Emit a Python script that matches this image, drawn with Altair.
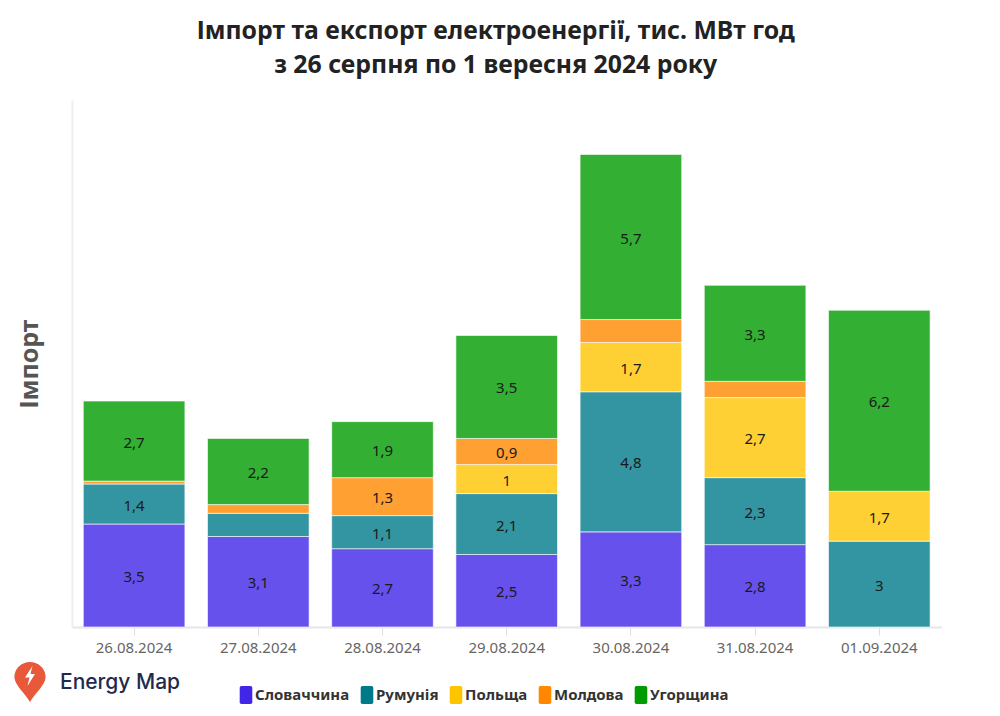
import altair as alt
import pandas as pd

dates = ["26.08.2024","27.08.2024","28.08.2024","29.08.2024","30.08.2024","31.08.2024","01.09.2024"]
countries = ["Словаччина","Румунія","Польща","Молдова","Угорщина"]
colors = ["#4126e8","#007a8a","#ffc400","#ff8800","#009b00"]
slovakia = [3.55,3.12,2.70,2.50,3.28,2.84,0]
romania  = [1.38,0.80,1.14,2.10,4.83,2.31,2.96]
poland   = [0,0,0,1.00,1.70,2.76,1.72]
moldova  = [0.10,0.30,1.31,0.90,0.79,0.56,0]
hungary  = [2.76,2.28,1.93,3.55,5.69,3.31,6.24]
lab_slovakia = ["3,5","3,1","2,7","2,5","3,3","2,8",""]
lab_romania  = ["1,4","","1,1","2,1","4,8","2,3","3"]
lab_poland   = ["","","","1","1,7","2,7","1,7"]
lab_moldova  = ["","","1,3","0,9","","",""]
lab_hungary  = ["2,7","2,2","1,9","3,5","5,7","3,3","6,2"]

rows = []
for k, (c, vals, labs) in enumerate(zip(countries,
        [slovakia,romania,poland,moldova,hungary],
        [lab_slovakia,lab_romania,lab_poland,lab_moldova,lab_hungary])):
    for d, v, l in zip(dates, vals, labs):
        if v > 0:
            rows.append(dict(date=d, country=c, value=v, label=l, k=k))
df = pd.DataFrame(rows)

FONT = "Noto Sans"
x = alt.X("date:N", sort=dates, title=None,
          scale=alt.Scale(paddingInner=0.182, paddingOuter=0.091),
          axis=alt.Axis(labelAngle=0, labelFontSize=15, labelColor="#666666", labelFont=FONT,
                        domainColor="#e6e6e6", domainWidth=2, tickColor="#dddddd", tickSize=8,
                        labelPadding=6))
yscale = alt.Scale(domain=[0, 18.17], nice=False)

base = alt.Chart(df).transform_stack(
    stack="value", groupby=["date"], sort=[alt.SortField("k", order="ascending")], as_=["y0", "y1"]
).transform_calculate(mid="(datum.y0+datum.y1)/2")

legend_symbol = "M-0.5,-1H0.5Q0.7,-1 0.7,-0.8V0.8Q0.7,1 0.5,1H-0.5Q-0.7,1 -0.7,0.8V-0.8Q-0.7,-1 -0.5,-1Z"

bars = base.mark_bar(fillOpacity=0.8, stroke="#ffffff", strokeOpacity=0.6, strokeWidth=1).encode(
    x=x,
    y=alt.Y("y0:Q", scale=yscale, title="Імпорт",
            axis=alt.Axis(labels=False, ticks=False, grid=False, domainColor="#eeeeee", domainWidth=2,
                          titleFontSize=25, titleFont=FONT, titleFontWeight="bold", titleColor="#555555",
                          titlePadding=29)),
    y2="y1:Q",
    color=alt.Color("country:N", sort=countries,
                    scale=alt.Scale(domain=countries, range=colors),
                    legend=alt.Legend(title=None, orient="none", legendX=165, legendY=586,
                                      direction="horizontal", columns=5, gridAlign="none",
                                      symbolType=legend_symbol, symbolSize=324, symbolOpacity=1,
                                      symbolStrokeWidth=0, labelFont=FONT, labelFontSize=15,
                                      labelFontWeight="bold", labelColor="#333333",
                                      columnPadding=8, labelOffset=0)),
)

labels = base.transform_filter("datum.label != ''").mark_text(
    font=FONT, fontSize=15, color="#1a1a1a", baseline="middle", align="center", dy=1.5
).encode(x=alt.X("date:N", sort=dates), y=alt.Y("mid:Q", scale=yscale), text="label:N")

one = alt.Chart(pd.DataFrame({"a": [0]}))
pin = "M0,1C-0.25,0.55 -0.78,0.15 -0.78,-0.25A0.78,0.75 0 1 1 0.78,-0.25C0.78,0.15 0.25,0.55 0,1Z"
bolt = "M0.25,-1L-0.5,0.15H-0.05L-0.25,1L0.5,-0.2H0.05Z"
logo_pin = one.mark_point(shape=pin, filled=True, opacity=1, size=1600, color="#e8583a").encode(
    x=alt.value(-42), y=alt.value(582))
logo_bolt = one.mark_point(shape=bolt, filled=True, opacity=1, size=400, color="#ffffff").encode(
    x=alt.value(-42), y=alt.value(576))
logo_text = one.mark_text(text="Energy Map", font="Inter", fontSize=21, fontWeight=500, color="#1f2a4d",
                          align="left", baseline="middle").encode(x=alt.value(-12), y=alt.value(583))

chart = alt.layer(bars, labels, logo_pin, logo_bolt, logo_text).properties(
    width=869.4, height=527,
    title=alt.TitleParams(["Імпорт та експорт електроенергії, тис. МВт год", "з 26 серпня по 1 вересня 2024 року"],
                          font=FONT, fontSize=24.8, fontWeight="bold", color="#222222",
                          anchor="middle", dx=-11, offset=22, lineHeight=34),
    autosize=alt.AutoSizeParams(type="none"),
    padding={"left": 64, "top": 92, "right": 48, "bottom": 80},
).resolve_scale(x="shared", y="shared").configure_view(stroke=None)

chart.save("out.html", embed_options={"renderer": "svg", "actions": False})
